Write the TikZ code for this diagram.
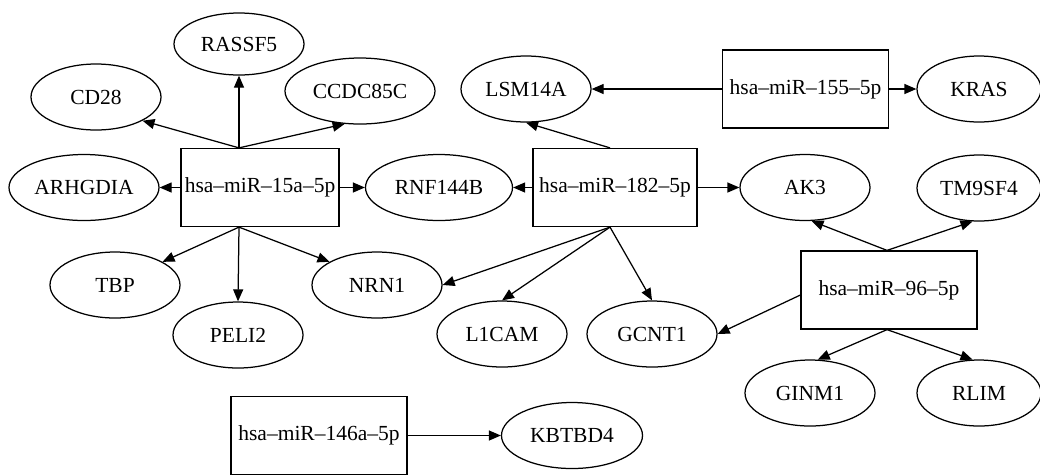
\documentclass[tikz,border=0pt]{standalone}
\usepackage{fontspec}
\setmainfont{Liberation Serif}
\usetikzlibrary{shapes.geometric,arrows.meta,calc}
\begin{document}
\begin{tikzpicture}[x=1pt,y=-1pt,
  gene/.style={draw,ellipse,line width=1.25pt,minimum width=130pt,minimum height=66pt,inner sep=0pt,font=\fontsize{21.5}{24}\selectfont},
  mir/.style={draw,rectangle,line width=1.25pt,minimum height=78pt,inner sep=0pt,font=\fontsize{21.5}{24}\selectfont},
  edge/.style={line width=1.25pt,-{Triangle[length=12pt,width=10pt]}}]
\useasboundingbox (0,0) rectangle (1040,475);
% miRNA boxes
\node[mir,minimum width=158pt] (m15) at (260,187.5) {hsa–miR–15a–5p};
\node[mir,minimum width=164pt] (m182) at (615,187.5) {hsa–miR–182–5p};
\node[mir,minimum width=166pt] (m155) at (805.5,89) {hsa–miR–155–5p};
\node[mir,minimum width=176pt] (m96) at (889,290) {hsa–miR–96–5p};
\node[mir,minimum width=176pt] (m146) at (319,435.5) {hsa–miR–146a–5p};
% gene ellipses
\node[gene,minimum height=62pt] (RASSF5) at (239,44) {RASSF5};
\node[gene] (CD28) at (96,97) {CD28};
\node[gene,minimum width=150pt] (CCDC85C) at (360,91) {CCDC85C};
\node[gene,minimum width=150pt] (ARHGDIA) at (84,187.5) {ARHGDIA};
\node[gene,minimum width=147pt] (RNF144B) at (439,187.5) {RNF144B};
\node[gene] (LSM14A) at (526,89) {LSM14A};
\node[gene,minimum width=124pt] (KRAS) at (979,89) {KRAS};
\node[gene] (AK3) at (805,187.5) {AK3};
\node[gene,minimum width=124pt] (TM9SF4) at (979,188) {TM9SF4};
\node[gene] (GINM1) at (810,393) {GINM1};
\node[gene,minimum width=124pt] (RLIM) at (979,393) {RLIM};
\node[gene] (GCNT1) at (652,334) {GCNT1};
\node[gene] (L1CAM) at (502,334) {L1CAM};
\node[gene] (NRN1) at (377,285) {NRN1};
\node[gene] (TBP) at (115,285) {TBP};
\node[gene] (PELI2) at (238,335) {PELI2};
\node[gene,minimum width=141pt] (KBTBD4) at (572,435.5) {KBTBD4};
% edges from hsa-miR-15a-5p
\draw[edge] ([xshift=-21pt]m15.north) -- (CD28.-27);
\draw[edge] ([xshift=-21pt]m15.north) -- (RASSF5.south);
\draw[edge] ([xshift=-21pt]m15.north) -- (CCDC85C.-115);
\draw[edge] (m15.west) -- (ARHGDIA.east);
\draw[edge] (m15.east) -- (RNF144B.west);
\draw[edge] ([xshift=-21pt]m15.south) -- (TBP.26);
\draw[edge] ([xshift=-21pt]m15.south) -- (PELI2.north);
\draw[edge] ([xshift=-21pt]m15.south) -- (NRN1.154);
% edges from hsa-miR-182-5p
\draw[edge] (m182.west) -- (RNF144B.east);
\draw[edge] (m182.east) -- (AK3.west);
\draw[edge] ([xshift=-5pt]m182.north) -- (LSM14A.south);
\draw[edge] ([xshift=-5pt]m182.south) -- (NRN1.east);
\draw[edge] ([xshift=-5pt]m182.south) -- (L1CAM.north);
\draw[edge] ([xshift=-5pt]m182.south) -- (GCNT1.north);
% edges from hsa-miR-155-5p
\draw[edge] (m155.west) -- (LSM14A.east);
\draw[edge] (m155.east) -- (KRAS.west);
% edges from hsa-miR-96-5p
\draw[edge] ([xshift=-2pt]m96.north) -- (AK3.-79);
\draw[edge] ([xshift=-2pt]m96.north) -- (TM9SF4.-101);
\draw[edge] ([xshift=-2pt]m96.south) -- (GINM1.77);
\draw[edge] ([xshift=-2pt]m96.south) -- (RLIM.101);
\draw[edge] ([yshift=-5pt]m96.west) -- (GCNT1.east);
% edge from hsa-miR-146a-5p
\draw[edge] (m146.east) -- (KBTBD4.west);
\end{tikzpicture}
\end{document}
